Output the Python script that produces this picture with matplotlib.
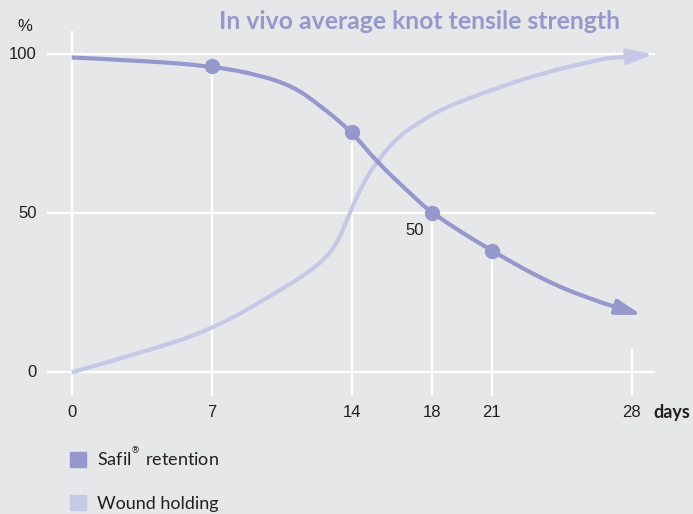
import matplotlib.pyplot as plt
from matplotlib.patches import Patch, PathPatch
from matplotlib.path import Path

# values (days, %)
retention_days = [0, 3.5, 7, 9.4, 11.1, 12.4, 14, 15.25, 16.9, 18, 21, 24.1, 26.6, 28.5]
retention_pct = [99, 98, 96.3, 93.5, 89.8, 84, 75.7, 66.2, 56.4, 50, 38.1, 27.4, 21.7, 18]

marker_days = [7, 14, 18, 21]
marker_pct = [96.3, 75.7, 50, 38.1]

wound_days = [0, 3.4, 7, 10.6, 12.25, 13.2, 13.9, 14.5, 15.3, 16.4, 17.5, 18.4,
              20.1, 23.4, 26.7, 29.1]
wound_pct = [0, 6, 13.3, 26.4, 33.2, 39.5, 50, 58.7, 66.7, 74.6, 79, 82.5,
             86.8, 94, 98.7, 100]

x_ticks = [0, 7, 14, 18, 21, 28]
y_ticks = [0, 50, 100]

BG = "#e6e7e9"
C_RET = "#9598cc"
C_WOUND = "#c5c8e6"
TXT = "#231f20"


def smooth_path(xs, ys):
    # quadratic bezier through the midpoints, read points act as control points
    verts = [(xs[0], ys[0])]
    codes = [Path.MOVETO]
    for i in range(1, len(xs) - 1):
        mid = ((xs[i] + xs[i + 1]) / 2, (ys[i] + ys[i + 1]) / 2)
        verts += [(xs[i], ys[i]), mid]
        codes += [Path.CURVE3, Path.CURVE3]
    verts.append((xs[-1], ys[-1]))
    codes.append(Path.LINETO)
    return Path(verts, codes)


def draw_curve(ax, xs, ys, color, z):
    ax.add_patch(PathPatch(smooth_path(xs[:-1], ys[:-1]), fill=False,
                           edgecolor=color, lw=3, capstyle="butt", zorder=z))
    ax.annotate("", xy=(xs[-1], ys[-1]), xytext=(xs[-2], ys[-2]),
                arrowprops=dict(arrowstyle="-|>,head_length=1.5,head_width=0.45",
                                color=color, lw=3, shrinkA=0, shrinkB=0),
                zorder=z)


def main():
    fig = plt.figure(figsize=(6.93, 5.14), dpi=100, facecolor=BG)
    ax = fig.add_axes([0, 0, 1, 1])
    ax.set_facecolor(BG)
    ax.set_xlim(-3.585, 31.065)
    ax.set_ylim(-44.56, 117.08)
    ax.axis("off")

    # white grid: horizontal lines and drop lines from the points
    for y in y_ticks:
        ax.plot([-1.2, 29.1], [y, y], color="white", lw=1.6, zorder=1)
    ax.plot([0, 0], [-7, 107], color="white", lw=1.6, zorder=1)
    for d, p in zip(marker_days, marker_pct):
        ax.plot([d, d], [-7, p], color="white", lw=1.6, zorder=1)
    ax.plot([28, 28], [-7, 7], color="white", lw=1.6, zorder=1)

    draw_curve(ax, wound_days, wound_pct, C_WOUND, 2)
    draw_curve(ax, retention_days, retention_pct, C_RET, 3)
    ax.plot(marker_days, marker_pct, "o", color=C_RET, ms=10, zorder=4)

    # tick labels
    for y in y_ticks:
        ax.text(-1.75, y, str(y), ha="right", va="center", fontsize=12,
                family="Liberation Sans", color=TXT)
    ax.text(-2.33, 108.6, "%", ha="center", va="center", fontsize=12,
            family="Liberation Sans", color=TXT)
    for d in x_ticks:
        ax.text(d, -12.6, str(d), ha="center", va="center", fontsize=12,
                family="Liberation Sans", color=TXT)
    ax.text(29.1, -12.6, "days", ha="left", va="center", fontsize=13,
            family="Lato", weight="bold", color=TXT)
    ax.text(17.6, 44.7, "50", ha="right", va="center", fontsize=12,
            family="Liberation Sans", color=TXT)

    ax.text(17.4, 110.2, "In vivo average knot tensile strength", ha="center",
            va="center", fontsize=17.8, family="Lato", weight="bold", color=C_RET)

    handles = [Patch(color=C_RET), Patch(color=C_WOUND)]
    labels = [r"Safil$^{^{\circledR}}$ retention", "Wound holding"]
    leg = ax.legend(handles, labels, loc="upper left",
                    bbox_to_anchor=(70 / 693, 1 - 446 / 514),
                    frameon=False, borderpad=0, borderaxespad=0,
                    handlelength=0.9, handleheight=0.9,
                    handletextpad=0.6, labelspacing=1.45,
                    prop={"family": "Lato", "size": 13})
    for t in leg.get_texts():
        t.set_color(TXT)

    fig.savefig("out.png", dpi=100, facecolor=BG)
    plt.close(fig)


if __name__ == "__main__":
    main()
